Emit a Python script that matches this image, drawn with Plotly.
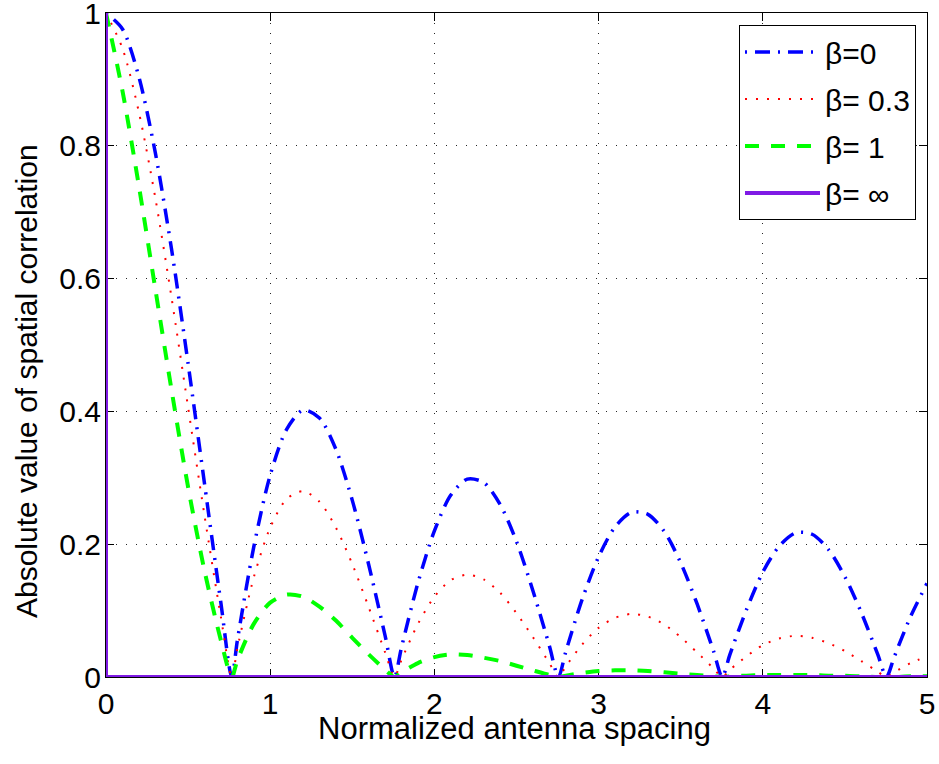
import plotly.graph_objects as go

# normalized antenna spacing (samples, incl. the null positions)
spacing = [0.0, 0.1, 0.2, 0.3, 0.4, 0.5, 0.6, 0.7, 0.766, 0.8, 0.9,
           1.0, 1.1, 1.2, 1.3, 1.4, 1.5, 1.6, 1.7, 1.757, 1.8, 1.9,
           2.0, 2.1, 2.2, 2.3, 2.4, 2.5, 2.6, 2.7, 2.755, 2.8, 2.9,
           3.0, 3.1, 3.2, 3.3, 3.4, 3.5, 3.6, 3.7, 3.753, 3.8, 3.9,
           4.0, 4.1, 4.2, 4.3, 4.4, 4.5, 4.6, 4.7, 4.753, 4.8, 4.9, 5.0]

# |correlation|
corr_b0 = [1.000, 0.976, 0.904, 0.790, 0.643, 0.472, 0.291, 0.111, 0.0, 0.055, 0.196,
           0.304, 0.373, 0.402, 0.390, 0.343, 0.266, 0.169, 0.062, 0.0, 0.045, 0.142,
           0.220, 0.274, 0.298, 0.293, 0.260, 0.204, 0.130, 0.047, 0.0, 0.038, 0.117,
           0.181, 0.226, 0.248, 0.245, 0.219, 0.172, 0.110, 0.039, 0.0, 0.034, 0.101,
           0.158, 0.197, 0.217, 0.215, 0.192, 0.151, 0.097, 0.034, 0.0, 0.030, 0.091, 0.141]

corr_b03 = [1.000, 0.947, 0.851, 0.722, 0.570, 0.406, 0.243, 0.090, 0.0, 0.043, 0.150,
            0.225, 0.268, 0.280, 0.264, 0.225, 0.170, 0.105, 0.037, 0.0, 0.026, 0.080,
            0.121, 0.146, 0.154, 0.147, 0.127, 0.096, 0.060, 0.021, 0.0, 0.016, 0.049,
            0.074, 0.089, 0.095, 0.091, 0.079, 0.060, 0.037, 0.013, 0.0, 0.011, 0.031,
            0.048, 0.058, 0.062, 0.059, 0.051, 0.039, 0.024, 0.008, 0.0, 0.007, 0.021, 0.031]

corr_b1 = [1.000, 0.883, 0.740, 0.585, 0.431, 0.286, 0.160, 0.055, 0.0, 0.025, 0.080,
           0.112, 0.124, 0.121, 0.106, 0.085, 0.059, 0.034, 0.011, 0.0, 0.007, 0.021,
           0.030, 0.034, 0.033, 0.029, 0.024, 0.017, 0.010, 0.003, 0.0, 0.002, 0.006,
           0.009, 0.010, 0.010, 0.009, 0.007, 0.005, 0.003, 0.001, 0.0, 0.001, 0.002,
           0.003, 0.003, 0.003, 0.003, 0.002, 0.002, 0.001, 0.000, 0.0, 0.000, 0.001, 0.001]

# beta = inf: impulse at zero spacing
spacing_inf = [0.0, 0.0, 5.0]
corr_inf = [1.0, 0.0, 0.0]

FONT = "Liberation Sans, Arial, sans-serif"

fig = go.Figure()

fig.add_trace(go.Scatter(
    x=spacing, y=corr_b0, name="β=0", mode="lines", legendgroup="a",
    line=dict(color="#0000ff", width=3.5, dash="2px,8px,15px,8px", shape="spline", smoothing=0.8),
))
fig.add_trace(go.Scatter(
    x=spacing, y=corr_b03, name="β= 0.3", mode="lines", legendgroup="b",
    line=dict(color="#ff0000", width=2, dash="2px,9px", shape="spline", smoothing=0.8),
))
fig.add_trace(go.Scatter(
    x=spacing, y=corr_b1, name="β= 1", mode="lines", legendgroup="c",
    line=dict(color="#00ff00", width=4, dash="14px,12px", shape="spline", smoothing=0.8),
))
fig.add_trace(go.Scatter(
    x=spacing_inf, y=corr_inf, name="β= ∞", mode="lines", legendgroup="d",
    line=dict(color="#7f1ae5", width=4),
))

axis_common = dict(
    showline=True, linecolor="black", linewidth=1, mirror="allticks",
    ticks="inside", ticklen=8, tickcolor="black",
    showgrid=True, gridcolor="rgba(0,0,0,0.85)", gridwidth=1, griddash="1px,9px",
    zeroline=False, layer="below traces", ticklabeloverflow="allow", automargin=False,
    tickfont=dict(family=FONT, size=30, color="black"),
)

fig.update_xaxes(range=[0, 5], tickvals=[0, 1, 2, 3, 4, 5], ticklabelstandoff=0, **axis_common)
fig.update_yaxes(range=[0, 1], tickvals=[0, 0.2, 0.4, 0.6, 0.8, 1],
                 ticktext=["0", "0.2", "0.4", "0.6", "0.8", "1"], ticklabelstandoff=-2, **axis_common)

fig.update_layout(
    width=939, height=764,
    margin=dict(l=106, r=12, t=13, b=87, autoexpand=False),
    plot_bgcolor="white", paper_bgcolor="white",
    font=dict(family=FONT, size=30, color="black"),
    showlegend=True,
    legend=dict(
        x=0.9866, y=0.982, xanchor="right", yanchor="top",
        bgcolor="white", bordercolor="black", borderwidth=1,
        font=dict(family=FONT, size=30), tracegroupgap=5, itemwidth=75,
    ),
    annotations=[
        dict(text="Normalized antenna spacing", xref="paper", yref="paper",
             x=0.497, y=-0.077, xanchor="center", yanchor="middle", showarrow=False,
             font=dict(family=FONT, size=31)),
        dict(text="Absolute value of spatial correlation", xref="paper", yref="paper",
             x=-0.0962, y=0.4458, xanchor="center", yanchor="middle", showarrow=False,
             textangle=-90, font=dict(family=FONT, size=30)),
    ],
)

# drop the browser's default body margin so the figure sits at the page origin
fig.write_html("out.html", config={"displayModeBar": False},
               post_script="document.body.style.margin='0';")
